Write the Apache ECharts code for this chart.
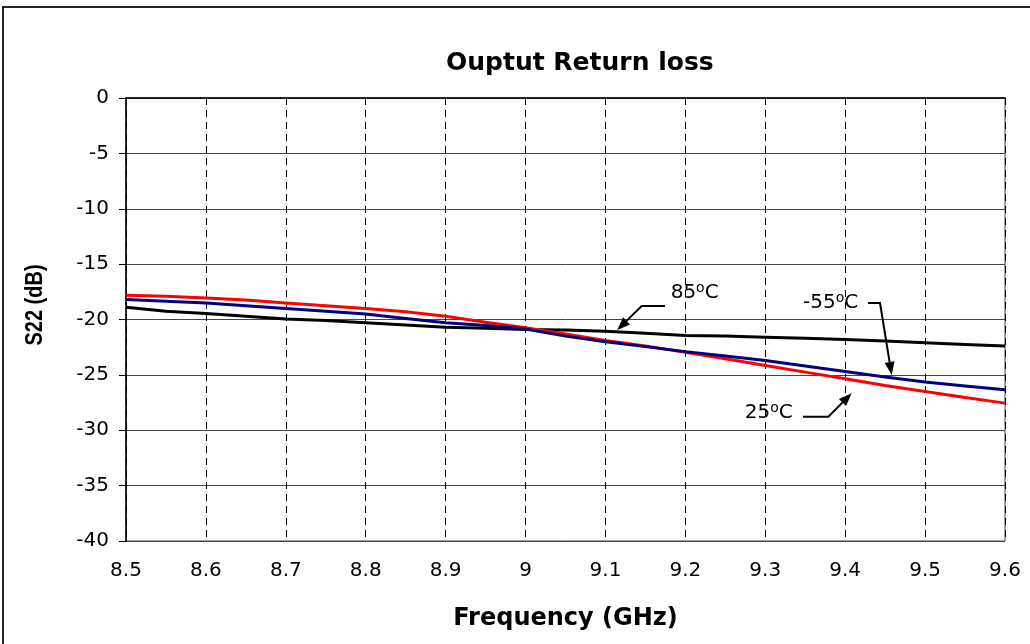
<!DOCTYPE html>
<html>
<head>
<meta charset="utf-8">
<script src="https://cdn.jsdelivr.net/npm/echarts@6/dist/echarts.min.js"></script>
<style>html,body{margin:0;padding:0;background:#fff}#c{width:1030px;height:644px}</style>
</head>
<body>
<div id="c"></div>
<script>
const freq = [8.50, 8.55, 8.60, 8.65, 8.70, 8.75, 8.80, 8.85, 8.90, 8.95, 9.00, 9.05,
              9.10, 9.15, 9.20, 9.25, 9.30, 9.35, 9.40, 9.45, 9.50, 9.55, 9.60];
const s22_25C  = [-17.8, -17.9, -18.05, -18.25, -18.5, -18.75, -19.0, -19.3, -19.7, -20.25, -20.75, -21.3,
                  -21.9, -22.4, -22.95, -23.55, -24.15, -24.75, -25.35, -25.95, -26.5, -27.05, -27.55];
const s22_m55C = [-18.2, -18.35, -18.5, -18.75, -19.0, -19.25, -19.5, -19.9, -20.3, -20.55, -20.85, -21.5,
                  -22.0, -22.45, -22.9, -23.3, -23.7, -24.2, -24.7, -25.2, -25.65, -26.0, -26.35];
const s22_85C  = [-18.9, -19.25, -19.45, -19.7, -19.95, -20.1, -20.3, -20.5, -20.7, -20.8, -20.9, -20.95,
                  -21.05, -21.25, -21.45, -21.5, -21.6, -21.7, -21.8, -21.95, -22.1, -22.25, -22.4];
const xTicks = [8.5, 8.6, 8.7, 8.8, 8.9, 9.0, 9.1, 9.2, 9.3, 9.4, 9.5, 9.6];
const yTicks = [0, -5, -10, -15, -20, -25, -30, -35, -40];

// annotation labels: text anchor and arrow path in data coordinates
const annotations = [
  { temp: '85',  align: 'left',  at: [9.1816, -17.61], path: [[9.1745, -18.78], [9.1453, -18.78], [9.1148, -20.95]] },
  { temp: '-55', align: 'right', at: [9.4164, -18.51], path: [[9.4286, -18.51], [9.4436, -18.51], [9.4582, -25.01]] },
  { temp: '25',  align: 'right', at: [9.3343, -28.44], path: [[9.3472, -28.78], [9.3789, -28.78], [9.4081, -26.66]] }
];

const FONT = 'DejaVu Sans';
const chart = echarts.init(document.getElementById('c'), null, { renderer: 'canvas' });

function pairs(ys) { return freq.map((f, i) => [f, ys[i]]); }

chart.setOption({
  animation: false,
  backgroundColor: '#fff',
  title: {
    text: 'Ouptut Return loss',
    left: 441, top: 46,
    textStyle: { fontFamily: FONT, fontWeight: 'bold', fontSize: 25, color: '#000' }
  },
  grid: { left: 126, right: 25, top: 98, bottom: 103, show: true, borderColor: '#444', borderWidth: 1, backgroundColor: 'transparent' },
  xAxis: {
    type: 'value', min: xTicks[0], max: xTicks[xTicks.length - 1], interval: 0.1,
    name: 'Frequency (GHz)', nameLocation: 'middle', nameGap: 66,
    nameTextStyle: { fontFamily: FONT, fontWeight: 'bold', fontSize: 24, color: '#000' },
    axisLine: { show: true, lineStyle: { color: '#000', width: 1.5 } },
    axisTick: { show: true, length: 7, lineStyle: { color: '#000' } },
    axisLabel: { margin: 20, fontFamily: FONT, fontSize: 20, color: '#000',
      formatter: v => String(Math.round(v * 10) / 10) },
    splitLine: { show: true, lineStyle: { color: '#000', type: [7, 5], width: 1 } }
  },
  yAxis: {
    type: 'value', min: yTicks[yTicks.length - 1], max: yTicks[0], interval: 5,
    axisLine: { show: true, lineStyle: { color: '#000', width: 1.5 } },
    axisTick: { show: true, length: 7, lineStyle: { color: '#000' } },
    axisLabel: { margin: 17, fontFamily: FONT, fontSize: 20, color: '#000' },
    splitLine: { show: true, lineStyle: { color: '#444', width: 1 } }
  },
  series: [
    { name: '85°C', type: 'line', data: pairs(s22_85C), showSymbol: false, symbol: 'none',
      lineStyle: { color: '#000000', width: 3 }, itemStyle: { color: '#000000' } },
    { name: '25°C', type: 'line', data: pairs(s22_25C), showSymbol: false, symbol: 'none',
      lineStyle: { color: '#ff0000', width: 3 }, itemStyle: { color: '#ff0000' } },
    { name: '-55°C', type: 'line', data: pairs(s22_m55C), showSymbol: false, symbol: 'none',
      lineStyle: { color: '#000080', width: 3 }, itemStyle: { color: '#000080' } }
  ]
});

function px(p) { return chart.convertToPixel({ gridIndex: 0 }, p); }

const mctx = document.createElement('canvas').getContext('2d');
function tw(text, size) { mctx.font = size + 'px "' + FONT + '"'; return mctx.measureText(text).width; }

const elems = [
  { type: 'rect', shape: { x: 3, y: 7, width: 1200, height: 800 },
    style: { fill: 'none', stroke: '#222', lineWidth: 2 }, silent: true, z: 0 },
  { type: 'text', x: 36, y: 305, rotation: Math.PI / 2, scaleY: 1.15,
    style: { text: 'S22 (dB)', font: 'bold 20px "Liberation Sans"', fill: '#000',
      textAlign: 'center', textVerticalAlign: 'middle' }, z: 10 }
];

annotations.forEach(a => {
  const pts = a.path.map(px);
  const tip = pts[pts.length - 1];
  const prev = pts[pts.length - 2];
  const dx = tip[0] - prev[0], dy = tip[1] - prev[1];
  const L = Math.hypot(dx, dy), ux = dx / L, uy = dy / L;
  const hl = 13, hw = 5;
  const base = [tip[0] - ux * hl, tip[1] - uy * hl];
  const linePts = pts.slice(0, -1).concat([base]);
  elems.push({ type: 'polyline', shape: { points: linePts },
    style: { stroke: '#000', lineWidth: 2, fill: null }, z: 20 });
  elems.push({ type: 'polygon', shape: { points: [tip,
      [base[0] - uy * hw, base[1] + ux * hw], [base[0] + uy * hw, base[1] - ux * hw]] },
    style: { fill: '#000' }, z: 20 });
  const t = px(a.at);
  const wT = tw(a.temp, 20), wO = tw('o', 14), wC = tw('C', 20);
  const x0 = a.align === 'left' ? t[0] : t[0] - (wT + wO + wC);
  const mk = (txt, x, y, size) => ({ type: 'text', x: x, y: y,
    style: { text: txt, font: size + 'px "' + FONT + '"', fill: '#000', textAlign: 'left', textVerticalAlign: 'middle' }, z: 20 });
  elems.push(mk(a.temp, x0, t[1], 20));
  elems.push(mk('o', x0 + wT, t[1] - 5, 14));
  elems.push(mk('C', x0 + wT + wO, t[1], 20));
});

chart.setOption({ graphic: elems });
</script>
</body>
</html>
